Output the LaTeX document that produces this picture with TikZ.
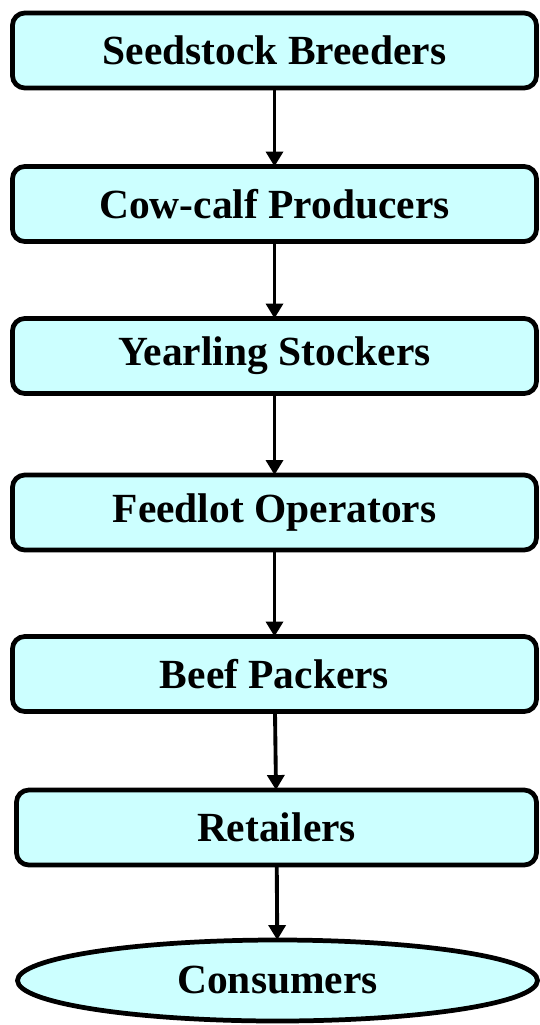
\documentclass[tikz,border=0pt]{standalone}
\usepackage{fontspec}
\setmainfont{Liberation Serif}
\usepackage{tikz}
\usetikzlibrary{
  arrows.meta, shapes.geometric,
  positioning
}
\usepackage{xcolor}
\definecolor{stagecyan}{HTML}{CCFFFF}
\tikzset{
  stage/.style={
    rectangle, rounded corners=7pt, draw=black, line width=2.7pt,
    fill=stagecyan, minimum width=10.48cm, minimum height=1.5cm,
    inner sep=0pt, outer sep=0pt, align=center,
    font=\fontsize{23.6}{28}\selectfont\bfseries
  },
  endstage/.style={
    ellipse, draw=black, line width=2.7pt,
    fill=stagecyan, minimum width=10.4cm, minimum height=1.62cm,
    inner sep=0pt, outer sep=0pt, align=center,
    font=\fontsize{23.6}{28}\selectfont\bfseries
  },
  arrow/.style={-{Triangle[width=9.6pt, length=8.5pt]}, line width=2.2pt, draw=black}
}

\begin{document}
\begin{tikzpicture}
  \useasboundingbox (0,0) rectangle (10.8,-20.5);
  \node[stage] (seedstock) at (5.49,-1.01) {Seedstock Breeders};
  \node[stage, below=1.57cm of seedstock] (cowcalf) {Cow-calf Producers};
  \node[stage, below=1.54cm of cowcalf] (yearling) {Yearling Stockers};
  \node[stage, below=1.63cm of yearling] (feedlot) {Feedlot Operators};
  \node[stage, below=1.73cm of feedlot] (packers) {Beef Packers};
  \node[stage, minimum width=10.4cm, below=1.57cm of packers, xshift=0.04cm] (retailers) {Retailers};
  \node[endstage, below=1.5cm of retailers, xshift=0.02cm] (consumers) {Consumers};

  \draw[arrow] (seedstock) -- (cowcalf);
  \draw[arrow] (cowcalf) -- (yearling);
  \draw[arrow] (yearling) -- (feedlot);
  \draw[arrow] (feedlot) -- (packers);
  \draw[arrow] (packers) -- (retailers);
  \draw[arrow] (retailers) -- (consumers);
\end{tikzpicture}
\end{document}
